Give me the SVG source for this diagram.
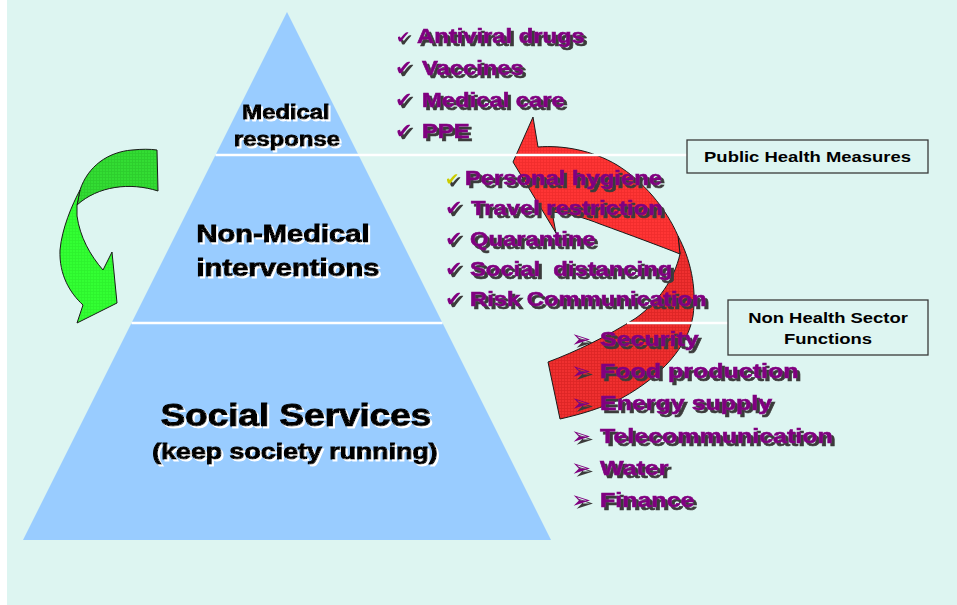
<svg xmlns="http://www.w3.org/2000/svg" width="957" height="605" viewBox="0 0 957 605">
  <style>
    text { font-family: "Liberation Sans", Arial, sans-serif; font-weight: 700; }
    .lbl { fill: #000; stroke: #000; stroke-width: 1; filter: url(#shW); }
    .item { fill: #800080; stroke: #800080; stroke-width: 0.6; font-size: 20px; filter: url(#shD); }
    .item21 { fill: #800080; stroke: #800080; stroke-width: 0.6; font-size: 21px; filter: url(#shD); }
    text.sym { font-family: "DejaVu Sans", sans-serif; fill: #800080; filter: url(#shD); }
    .box { fill: none; stroke: #3a3a3a; stroke-width: 1.3; }
    .boxt { fill: #000; font-size: 15.5px; }
    .tier { fill: #99CCFF; }
    .sep { stroke: #FFFFFF; stroke-width: 2.5; fill: none; }
    .arrow { stroke: #1a1a1a; stroke-width: 1; stroke-linejoin: round; }
  </style>
  <defs>
    <!-- dark drop shadow for the purple list text -->
    <filter id="shD" x="-10%" y="-30%" width="130%" height="160%">
      <feOffset in="SourceAlpha" dx="2.5" dy="2.5" result="o"/>
      <feFlood flood-color="#3a3a3a"/>
      <feComposite in2="o" operator="in" result="s"/>
      <feMerge><feMergeNode in="s"/><feMergeNode in="SourceGraphic"/></feMerge>
    </filter>
    <!-- white drop shadow for the pyramid labels -->
    <filter id="shW" x="-10%" y="-30%" width="130%" height="160%">
      <feOffset in="SourceAlpha" dx="2" dy="2" result="o"/>
      <feFlood flood-color="#FFFFFF"/>
      <feComposite in2="o" operator="in" result="s"/>
      <feMerge><feMergeNode in="s"/><feMergeNode in="SourceGraphic"/></feMerge>
    </filter>
    <!-- fine grid textures of the ribbon arrows -->
    <pattern id="redF" width="3" height="3" patternUnits="userSpaceOnUse">
      <rect width="3" height="3" fill="#FF3535"/>
      <path d="M0,0.5H3M0.5,0V3" stroke="#DD2020" stroke-width="0.8" opacity="0.45"/>
    </pattern>
    <pattern id="redB" width="3" height="3" patternUnits="userSpaceOnUse">
      <rect width="3" height="3" fill="#F03030"/>
      <path d="M0,0.5H3M0.5,0V3" stroke="#C81818" stroke-width="0.8" opacity="0.5"/>
    </pattern>
    <pattern id="grnF" width="3" height="3" patternUnits="userSpaceOnUse">
      <rect width="3" height="3" fill="#33FF33"/>
      <path d="M0,0.5H3M0.5,0V3" stroke="#22DD22" stroke-width="0.8" opacity="0.4"/>
    </pattern>
    <pattern id="grnB" width="3" height="3" patternUnits="userSpaceOnUse">
      <rect width="3" height="3" fill="#33DD33"/>
      <path d="M0,0.5H3M0.5,0V3" stroke="#22B822" stroke-width="0.8" opacity="0.45"/>
    </pattern>
  </defs>

  <!-- page -->
  <rect x="0" y="0" width="957" height="605" fill="#FFFFFF"/>
  <rect x="7" y="0" width="950" height="605" fill="#DDF5F1"/>

  <!-- pyramid tiers -->
  <g id="tier-medical">
    <polygon class="tier" points="287,12 215.5,155 358.5,155"/>
  </g>
  <g id="tier-nonmedical">
    <polygon class="tier" points="215.5,155 358.5,155 442.5,323 131.5,323"/>
  </g>
  <g id="tier-social">
    <polygon class="tier" points="131.5,323 442.5,323 551,540 23,540"/>
  </g>

  <!-- connectors: ribbon arrows -->
  <g id="connectors">
    <g id="arrow-green">
      <path class="arrow" fill="url(#grnB)" d="M80,190 C88,166 108,152 132,150 C142,149 150,149 157,150 L158,191 C130,182 98,186 77,205 Z"/>
      <path class="arrow" fill="url(#grnF)" d="M80,190 C72,205 62,228 60,250 C59,275 70,293 83,305 L77,323 L117,303 L112,252 L103,270 C90,255 80,237 77,216 L77,205 Z"/>
    </g>
    <g id="arrow-red">
      <path class="arrow" fill="url(#redB)" d="M678,236 C690,258 697,287 693,316 C688,346 662,376 622,398 C602,408 582,414 560,419 L548,362 C575,352 608,336 636,318 C658,302 674,280 680,254 Z"/>
      <path class="arrow" fill="url(#redF)" d="M533,117 L538,147 C562,145 592,150 617,165 C643,181 666,208 678,236 L680,254 C660,246 630,235 600,224 C585,218 568,213 552,212 L556,233 L513,162 Z"/>
    </g>
  </g>

  <!-- white separators -->
  <g id="separators">
    <line class="sep" x1="215.5" y1="155" x2="687" y2="155"/>
    <line class="sep" x1="131.5" y1="323" x2="442.5" y2="323"/>
    <line class="sep" x1="627" y1="323" x2="728" y2="323"/>
  </g>

  <!-- pyramid labels -->
  <g id="label-medical" text-anchor="middle">
    <text class="lbl" font-size="20" transform="translate(286,119) scale(1.19,1)">Medical</text>
    <text class="lbl" font-size="20" transform="translate(287,146) scale(1.19,1)">response</text>
  </g>
  <g id="label-nonmedical" text-anchor="middle">
    <text class="lbl" font-size="24.5" transform="translate(283,242) scale(1.19,1)">Non-Medical</text>
    <text class="lbl" font-size="24.5" transform="translate(288,276) scale(1.19,1)">interventions</text>
  </g>
  <g id="label-social" text-anchor="middle">
    <text class="lbl" font-size="31" transform="translate(296,426) scale(1.19,1)">Social Services</text>
    <text class="lbl" font-size="22.5" transform="translate(295,459) scale(1.19,1)">(keep society running)</text>
  </g>

  <!-- medical response items -->
  <g id="list-medical">
    <text class="sym" font-size="17" x="396" y="43">✔</text>
    <text class="item" transform="translate(417,43) scale(1.19,1)">Antiviral drugs</text>
    <text class="sym" font-size="21" x="395" y="75">✔</text>
    <text class="item" transform="translate(422,75) scale(1.19,1)">Vaccines</text>
    <text class="sym" font-size="21" x="395" y="107">✔</text>
    <text class="item" transform="translate(422,107) scale(1.19,1)">Medical care</text>
    <text class="sym" font-size="21" x="395" y="138">✔</text>
    <text class="item" transform="translate(422,138) scale(1.19,1)">PPE</text>
  </g>

  <!-- public health measures items -->
  <g id="list-public-health">
    <text class="sym" font-size="17" x="445" y="185" style="fill:#CCCC00">✔</text>
    <text class="item" transform="translate(465,185) scale(1.19,1)">Personal hygiene</text>
    <text class="sym" font-size="21" x="445" y="215">✔</text>
    <text class="item" transform="translate(471,215) scale(1.19,1)">Travel restriction</text>
    <text class="sym" font-size="21" x="445" y="246">✔</text>
    <text class="item" transform="translate(470,246) scale(1.19,1)">Quarantine</text>
    <text class="sym" font-size="21" x="445" y="276">✔</text>
    <text class="item" transform="translate(470,276) scale(1.19,1)">Social&#160; distancing</text>
    <text class="sym" font-size="21" x="445" y="306">✔</text>
    <text class="item" transform="translate(470,306) scale(1.19,1)">Risk Communication</text>
  </g>

  <!-- non health sector items -->
  <g id="list-sector">
    <text class="sym" font-size="24" x="571" y="347">➢</text>
    <text class="item21" transform="translate(600,346) scale(1.19,1)">Security</text>
    <text class="sym" font-size="24" x="571" y="379">➢</text>
    <text class="item21" transform="translate(600,378) scale(1.19,1)">Food production</text>
    <text class="sym" font-size="24" x="571" y="411">➢</text>
    <text class="item21" transform="translate(600,410) scale(1.19,1)">Energy supply</text>
    <text class="sym" font-size="24" x="571" y="444">➢</text>
    <text class="item21" transform="translate(600,443) scale(1.19,1)">Telecommunication</text>
    <text class="sym" font-size="24" x="571" y="476">➢</text>
    <text class="item21" transform="translate(600,475) scale(1.19,1)">Water</text>
    <text class="sym" font-size="24" x="571" y="508">➢</text>
    <text class="item21" transform="translate(600,507) scale(1.19,1)">Finance</text>
  </g>

  <!-- category boxes -->
  <g id="box-public-health">
    <rect class="box" x="687" y="140" width="241" height="33"/>
    <text class="boxt" text-anchor="middle" transform="translate(807.5,162) scale(1.19,1)">Public Health Measures</text>
  </g>
  <g id="box-non-health">
    <rect class="box" x="728" y="300" width="200" height="55"/>
    <text class="boxt" text-anchor="middle" transform="translate(828,323) scale(1.19,1)">Non Health Sector</text>
    <text class="boxt" text-anchor="middle" transform="translate(828,344) scale(1.19,1)">Functions</text>
  </g>
</svg>
